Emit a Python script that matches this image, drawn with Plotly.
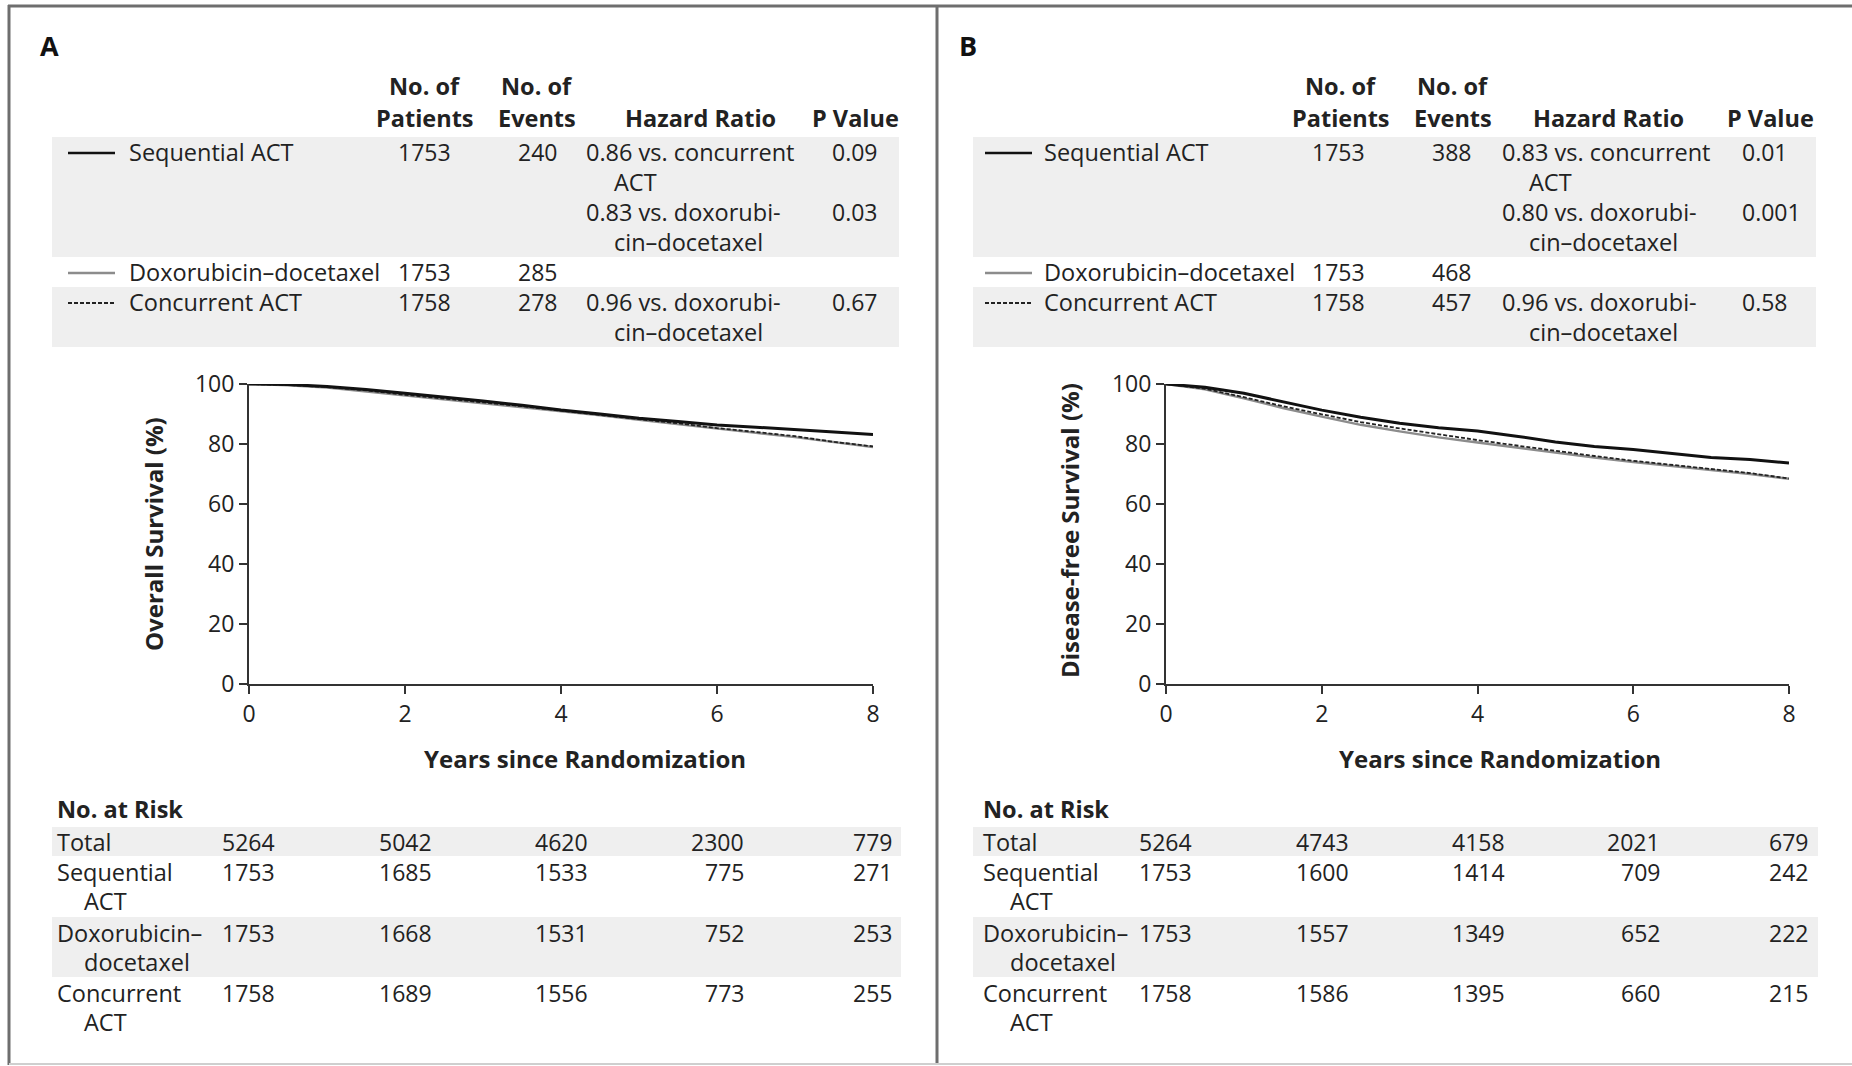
import plotly.graph_objects as go

# ---------------- data ----------------
years = [0, 0.5, 1, 1.5, 2, 2.5, 3, 3.5, 4, 4.5, 5, 5.5, 6, 6.5, 7, 7.5, 8]

os_sequential = [100, 99.8, 99.2, 98.2, 96.9, 95.7, 94.3, 92.9, 91.3, 90.0, 88.6, 87.5, 86.3, 85.6, 84.9, 84.0, 83.2]
os_doxo = [100, 99.6, 98.8, 97.5, 96.0, 94.8, 93.5, 92.3, 91.0, 89.6, 88.1, 86.6, 85.0, 83.7, 82.3, 80.6, 79.0]
os_concurrent = [100, 99.7, 99.0, 97.9, 96.4, 95.2, 93.8, 92.6, 91.1, 89.8, 88.3, 86.9, 85.3, 84.0, 82.6, 80.7, 79.2]

dfs_sequential = [100, 98.9, 96.9, 94.0, 91.3, 88.9, 86.9, 85.4, 84.3, 82.6, 80.7, 79.2, 78.2, 76.8, 75.5, 74.8, 73.7]
dfs_doxo = [100, 98.2, 95.2, 92.0, 89.1, 86.4, 84.2, 82.2, 80.5, 78.8, 77.0, 75.5, 74.0, 72.7, 71.5, 70.0, 68.4]
dfs_concurrent = [100, 98.4, 95.6, 92.6, 89.9, 87.3, 85.2, 83.2, 81.3, 79.5, 77.7, 76.0, 74.4, 73.0, 71.8, 70.3, 68.5]

groups = ["Sequential ACT", "Doxorubicin\u2013docetaxel", "Concurrent ACT"]
patients = [1753, 1753, 1758]
os_events = [240, 285, 278]
dfs_events = [388, 468, 457]

# hazard ratio lines per group: list of (line1, line2, p)
os_hr = [
    [("0.86 vs. concurrent", "ACT", "0.09"), ("0.83 vs. doxorubi-", "cin\u2013docetaxel", "0.03")],
    [],
    [("0.96 vs. doxorubi-", "cin\u2013docetaxel", "0.67")],
]
dfs_hr = [
    [("0.83 vs. concurrent", "ACT", "0.01"), ("0.80 vs. doxorubi-", "cin\u2013docetaxel", "0.001")],
    [],
    [("0.96 vs. doxorubi-", "cin\u2013docetaxel", "0.58")],
]

risk_times = [0, 2, 4, 6, 8]
risk_labels = [["Total"], ["Sequential", "ACT"], ["Doxorubicin\u2013", "docetaxel"], ["Concurrent", "ACT"]]
os_risk = [
    [5264, 5042, 4620, 2300, 779],
    [1753, 1685, 1533, 775, 271],
    [1753, 1668, 1531, 752, 253],
    [1758, 1689, 1556, 773, 255],
]
dfs_risk = [
    [5264, 4743, 4158, 2021, 679],
    [1753, 1600, 1414, 709, 242],
    [1753, 1557, 1349, 652, 222],
    [1758, 1586, 1395, 660, 215],
]

# ---------------- layout helpers ----------------
W, H = 1852, 1066
FONT = "Open Sans"
TXT = "#222222"
BAND = "#efefef"
FS = 23      # numbers
FSW = 23.5   # word labels


def X(px):
    return px / W


def Y(py):
    return 1 - py / H


styles = [
    dict(color="#111111", width=3.0, dash="solid"),
    dict(color="#8c8c8c", width=2.4, dash="solid"),
    dict(color="#222222", width=1.8, dash="4px,2px"),
]

panels = [
    dict(letter="A", letter_x=49, xdom=(249, 873), ytitle="Overall Survival (%)", ytitle_x=153, ytitle_y=534,
         xtitle_x=585, band=(52, 899), leg=(68, 115), label_x=128, pat_r=452, ev_r=558, hr_x=585, hr_ind=613,
         p_x=831, hdr=(425, 537, 700, 855), risk_label_x=56, risk_ind=83, risk_band=(52, 901),
         curves=[os_sequential, os_doxo, os_concurrent], events=os_events, hr=os_hr, risk=os_risk),
    dict(letter="B", letter_x=968, xdom=(1166, 1789), ytitle="Disease-free Survival (%)", ytitle_x=1069, ytitle_y=531,
         xtitle_x=1500, band=(973, 1816), leg=(985, 1032), label_x=1043, pat_r=1366, ev_r=1472, hr_x=1501, hr_ind=1528,
         p_x=1741, hdr=(1341, 1453, 1608, 1770), risk_label_x=982, risk_ind=1009, risk_band=(973, 1818),
         curves=[dfs_sequential, dfs_doxo, dfs_concurrent], events=dfs_events, hr=dfs_hr, risk=dfs_risk),
]

Y_TOP, Y_BOT = 384, 684
row_y = [152, 272, 302]  # first line of each group row in table
LINE = 30

fig = go.Figure()
annotations = []
shapes = []


def txt(text, x, y, anchor="left", size=FSW, bold=False, color=TXT, **kw):
    if bold:
        text = "<b>" + text + "</b>"
    annotations.append(dict(text=text, x=X(x), y=Y(y), xref="paper", yref="paper", xanchor=anchor,
                            yanchor="middle", showarrow=False, borderpad=0,
                            font=dict(family=FONT, size=size, color=color), **kw))


# frame
shapes.append(dict(type="line", xref="paper", yref="paper", x0=X(8), x1=1, y0=Y(6), y1=Y(6),
                   line=dict(color="#6e6e6e", width=3)))
shapes.append(dict(type="line", xref="paper", yref="paper", x0=X(9), x1=X(9), y0=Y(5), y1=Y(1065),
                   line=dict(color="#6e6e6e", width=3)))
shapes.append(dict(type="line", xref="paper", yref="paper", x0=X(937), x1=X(937), y0=Y(5), y1=Y(1065),
                   line=dict(color="#6e6e6e", width=3)))
shapes.append(dict(type="line", xref="paper", yref="paper", x0=X(9), x1=1, y0=Y(1064), y1=Y(1064),
                   line=dict(color="#cfcfcf", width=2)))

for i, p in enumerate(panels):
    xa = "x" if i == 0 else "x2"
    ya = "y" if i == 0 else "y2"
    for g in [1, 2, 0]:
        fig.add_trace(go.Scatter(x=years, y=p["curves"][g], mode="lines", line=styles[g], xaxis=xa, yaxis=ya,
                                 showlegend=False, hoverinfo="skip", cliponaxis=False))

    txt(p["letter"], p["letter_x"], 46, anchor="center", size=27, bold=True, color="#111")

    shapes.append(dict(type="rect", xref="paper", yref="paper", x0=X(p["band"][0]), x1=X(p["band"][1]),
                       y0=Y(137), y1=Y(257), fillcolor=BAND, line=dict(width=0), layer="below"))
    shapes.append(dict(type="rect", xref="paper", yref="paper", x0=X(p["band"][0]), x1=X(p["band"][1]),
                       y0=Y(287), y1=Y(347), fillcolor=BAND, line=dict(width=0), layer="below"))

    hx = p["hdr"]
    txt("No. of", hx[0], 86, anchor="center", bold=True)
    txt("Patients", hx[0], 118, anchor="center", bold=True)
    txt("No. of", hx[1], 86, anchor="center", bold=True)
    txt("Events", hx[1], 118, anchor="center", bold=True)
    txt("Hazard Ratio", hx[2], 118, anchor="center", bold=True)
    txt("P Value", hx[3], 118, anchor="center", bold=True)

    for g in range(3):
        yy = row_y[g]
        st = styles[g]
        shapes.append(dict(type="line", xref="paper", yref="paper", x0=X(p["leg"][0]), x1=X(p["leg"][1]),
                           y0=Y(yy + 1), y1=Y(yy + 1), line=dict(color=st["color"], width=min(st["width"], 2.6),
                                                                 dash=st["dash"])))
        txt(groups[g], p["label_x"], yy)
        txt(str(patients[g]), p["pat_r"], yy, anchor="right", size=FS)
        txt(str(p["events"][g]), p["ev_r"], yy, anchor="right", size=FS)
        for k, (l1, l2, pv) in enumerate(p["hr"][g]):
            y1 = yy + k * 2 * LINE
            txt(l1, p["hr_x"], y1)
            txt(l2, p["hr_ind"], y1 + LINE)
            txt(pv, p["p_x"], y1, size=FS)

    txt(p["ytitle"], p["ytitle_x"], p["ytitle_y"], anchor="center", size=24, bold=True, textangle=-90)
    txt("Years since Randomization", p["xtitle_x"], 758, anchor="center", size=24, bold=True)

    txt("No. at Risk", p["risk_label_x"], 809, bold=True)
    shapes.append(dict(type="rect", xref="paper", yref="paper", x0=X(p["risk_band"][0]), x1=X(p["risk_band"][1]),
                       y0=Y(827), y1=Y(856), fillcolor=BAND, line=dict(width=0), layer="below"))
    shapes.append(dict(type="rect", xref="paper", yref="paper", x0=X(p["risk_band"][0]), x1=X(p["risk_band"][1]),
                       y0=Y(917), y1=Y(977), fillcolor=BAND, line=dict(width=0), layer="below"))
    risk_y = [842, 872, 933, 993]
    shifts = [27, 28, 28, 28, 20]
    for r in range(4):
        lab = risk_labels[r]
        txt(lab[0], p["risk_label_x"], risk_y[r])
        if len(lab) > 1:
            txt(lab[1], p["risk_ind"], risk_y[r] + LINE - 1)
        for c, t in enumerate(risk_times):
            annotations.append(dict(text=str(p["risk"][r][c]), x=t, y=Y(risk_y[r]), xref=xa, yref="paper",
                                    xanchor="right", yanchor="middle", xshift=shifts[c], showarrow=False,
                                    borderpad=0, font=dict(family=FONT, size=FS, color=TXT)))

axis_common = dict(showline=True, linecolor="#333333", linewidth=2, ticks="outside", ticklen=8, tickwidth=2,
                   tickcolor="#333333", showgrid=False, zeroline=False, automargin=False,
                   tickfont=dict(family=FONT, size=FS, color=TXT))

fig.update_layout(
    template="none",
    width=W, height=H, margin=dict(l=0, r=0, t=0, b=0, pad=0, autoexpand=False),
    paper_bgcolor="white", plot_bgcolor="white",
    font=dict(family=FONT, color=TXT),
    xaxis=dict(domain=[X(249), X(873)], range=[0, 8], tickvals=[0, 2, 4, 6, 8], anchor="y", **axis_common),
    yaxis=dict(domain=[Y(Y_BOT), Y(Y_TOP)], range=[0, 100], tickvals=[0, 20, 40, 60, 80, 100], anchor="x",
               **axis_common),
    xaxis2=dict(domain=[X(1166), X(1789)], range=[0, 8], tickvals=[0, 2, 4, 6, 8], anchor="y2", **axis_common),
    yaxis2=dict(domain=[Y(Y_BOT), Y(Y_TOP)], range=[0, 100], tickvals=[0, 20, 40, 60, 80, 100], anchor="x2",
                **axis_common),
    annotations=annotations,
    shapes=shapes,
)

post = ("var s=document.createElement('style');"
        "s.innerHTML='html,body{margin:0!important;padding:0!important;overflow:hidden!important;}';"
        "document.head.appendChild(s);")

fig.write_html("out.html", post_script=post, config=dict(displayModeBar=False))
